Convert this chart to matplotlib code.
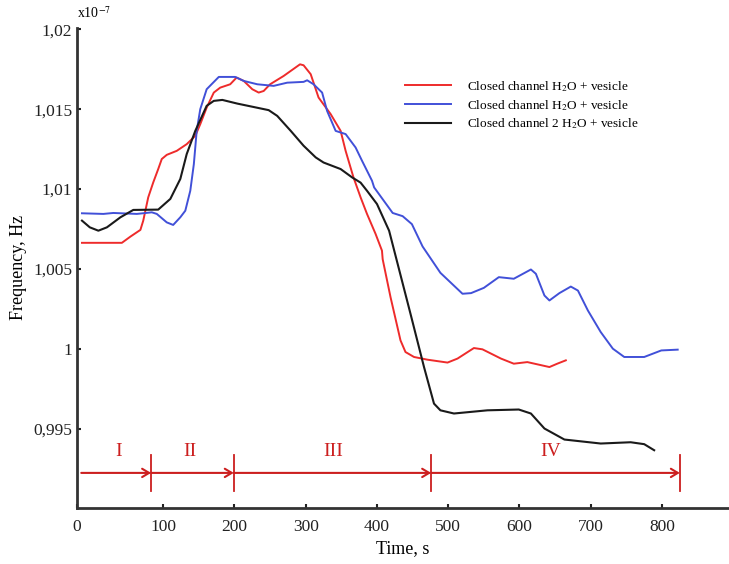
import matplotlib
matplotlib.use('Agg')
import matplotlib.pyplot as plt

plt.rcParams['font.family'] = ['Liberation Serif', 'DejaVu Serif']
plt.rcParams['mathtext.fontset'] = 'stix'

# time, s and frequency, x1e-7 Hz
red_t = [-14, 42, 54, 68, 72, 79, 86, 93, 98, 105, 119, 133, 145, 152, 161, 171, 180, 194,
         203, 213, 225, 234, 241, 250, 269, 292, 297, 307, 318, 335, 349, 356, 367, 377,
         386, 398, 407, 408, 419, 433, 440, 452, 471, 499, 513, 536, 548, 574, 592, 611,
         642, 653, 665]
red_f = [1.00663, 1.00663, 1.00702, 1.00744, 1.00802, 1.00948, 1.01041, 1.01125, 1.01188,
         1.01214, 1.01239, 1.01281, 1.01333, 1.01406, 1.01510, 1.01604, 1.01635, 1.01656,
         1.01698, 1.01677, 1.01625, 1.01604, 1.01614, 1.01656, 1.01708, 1.01781, 1.01775,
         1.01719, 1.01573, 1.01469, 1.01364, 1.01239, 1.01073, 1.00948, 1.00844, 1.00719,
         1.00614, 1.00560, 1.00323, 1.00052, 0.99979, 0.99948, 0.99931, 0.99913, 0.99938,
         1.00004, 0.99996, 0.99938, 0.99906, 0.99916, 0.99885, 0.99906, 0.99927]

blue_t = [-14, 16, 30, 63, 84, 91, 105, 114, 124, 131, 138, 143, 147, 152, 161, 178, 201,
          213, 232, 255, 274, 297, 302, 311, 323, 330, 342, 356, 370, 379, 393, 396, 409,
          422, 436, 449, 464, 489, 520, 532, 550, 571, 592, 616, 623, 635, 642, 656, 672,
          682, 696, 714, 731, 747, 775, 799, 822]
blue_f = [1.00848, 1.00844, 1.00850, 1.00844, 1.00854, 1.00844, 1.00791, 1.00775, 1.00823,
          1.00864, 1.00989, 1.01156, 1.01364, 1.01500, 1.01625, 1.01702, 1.01702, 1.01677,
          1.01656, 1.01646, 1.01666, 1.01671, 1.01681, 1.01656, 1.01604, 1.01489, 1.01364,
          1.01344, 1.01260, 1.01177, 1.01052, 1.01010, 1.00930, 1.00850, 1.00830, 1.00780,
          1.00640, 1.00475, 1.00344, 1.00348, 1.00381, 1.00448, 1.00438, 1.00496, 1.00469,
          1.00333, 1.00302, 1.00348, 1.00389, 1.00364, 1.00239, 1.00104, 1.00000, 0.99948,
          0.99948, 0.99989, 0.99994]

black_t = [-14, -3, 9, 21, 40, 58, 93, 110, 124, 133, 145, 161, 171, 183, 204, 248, 260,
           279, 297, 314, 325, 349, 365, 377, 386, 400, 417, 429, 447, 466, 480, 489, 508,
           555, 599, 616, 635, 663, 714, 756, 775, 789]
black_f = [1.00802, 1.00760, 1.00739, 1.00760, 1.00823, 1.00869, 1.00871, 1.00938, 1.01063,
           1.01219, 1.01364, 1.01521, 1.01552, 1.01558, 1.01535, 1.01494, 1.01458, 1.01364,
           1.01271, 1.01198, 1.01166, 1.01125, 1.01073, 1.01040, 1.00989, 1.00906, 1.00739,
           1.00531, 1.00219, 0.99885, 0.99656, 0.99614, 0.99594, 0.99614, 0.99619, 0.99594,
           0.99500, 0.99431, 0.99406, 0.99414, 0.99402, 0.99364]

labels = ['Closed channel H$_2$O + vesicle',
          'Closed channel H$_2$O + vesicle',
          'Closed channel 2 H$_2$O + vesicle']

# stages
stage_edges = [-15, 83, 199, 476, 825]
stage_names = ['I', 'II', 'III', 'IV']
stage_text_x = [37, 138, 339, 644]

x_ticks = [100, 200, 300, 400, 500, 600, 700, 800]
y_ticks = [0.995, 1.0, 1.005, 1.01, 1.015, 1.02]
y_ticklabels = ['0,995', '1', '1,005', '1,01', '1,015', '1,02']

xmin, xmax = -21, 894
ymin, ymax = 0.99004, 1.0201

fig = plt.figure(figsize=(7.29, 5.64), dpi=100)
ax = fig.add_axes([0.1056, 0.0998, 0.8944, 0.851])

ax.plot(red_t, red_f, color='#ee2b2b', lw=1.4, label=labels[0])
ax.plot(blue_t, blue_f, color='#4150d8', lw=1.4, label=labels[1])
ax.plot(black_t, black_f, color='#1a1a1a', lw=1.5, label=labels[2])

stage_col = '#cc1f1f'
ya = 0.99222
for i in range(4):
    ax.annotate('', xy=(stage_edges[i + 1], ya), xytext=(stage_edges[i], ya),
                arrowprops=dict(arrowstyle='->,head_length=0.5,head_width=0.3',
                                color=stage_col, lw=1.5, shrinkA=0, shrinkB=0))
    ax.text(stage_text_x[i], 0.99353, stage_names[i], color=stage_col, fontsize=14,
            ha='center', va='center')
for e in stage_edges[1:]:
    ax.plot([e, e], [0.99108, 0.99333], color=stage_col, lw=1.3)

ax.set_xlim(xmin, xmax)
ax.set_ylim(ymin, ymax)
ax.set_xticks([xmin] + x_ticks)
ax.set_xticklabels(['0'] + [str(t) for t in x_ticks])
ax.set_yticks(y_ticks)
ax.set_yticklabels(y_ticklabels)
ax.tick_params(direction='in', length=3, width=1.5, labelsize=12.5, colors='#222222')
ax.tick_params(axis='x', pad=8)

for s in ['top', 'right']:
    ax.spines[s].set_visible(False)
for s in ['left', 'bottom']:
    ax.spines[s].set_linewidth(2)
    ax.spines[s].set_color('#333333')

ax.set_xlabel('Time, s', fontsize=13)
ax.set_ylabel('Frequency, Hz', fontsize=13, labelpad=4)
ax.text(0.0, 1.015, 'x10$^{-7}$', transform=ax.transAxes, fontsize=10, ha='left',
        va='bottom')

ax.legend(loc='upper left', bbox_to_anchor=(0.485, 0.918), frameon=False, fontsize=9.5,
          handlelength=3.5, handletextpad=1.2, labelspacing=0.3)

fig.savefig('out.png', dpi=100)
